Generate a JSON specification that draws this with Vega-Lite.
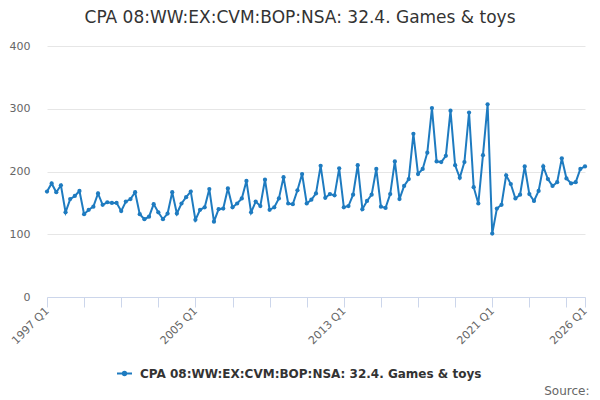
{
  "$schema": "https://vega.github.io/schema/vega-lite/v6.json",
  "autosize": {"type": "none"},
  "width": 538,
  "height": 251,
  "padding": {"left": 47, "top": 46, "right": 15, "bottom": 103},
  "background": "white",
  "title": {
    "text": "CPA 08:WW:EX:CVM:BOP:NSA: 32.4. Games & toys",
    "font": "DejaVu Sans",
    "fontSize": 17,
    "fontWeight": "normal",
    "color": "#333333",
    "anchor": "middle",
    "dx": -16,
    "offset": 13
  },
  "config": {
    "view": {"stroke": null},
    "font": "DejaVu Sans"
  },
  "data": {
    "values": [
      {"quarter": "1997 Q1", "value": 168}, {"quarter": "1997 Q2", "value": 181}, {"quarter": "1997 Q3", "value": 167}, {"quarter": "1997 Q4", "value": 178},
      {"quarter": "1998 Q1", "value": 135}, {"quarter": "1998 Q2", "value": 156}, {"quarter": "1998 Q3", "value": 161}, {"quarter": "1998 Q4", "value": 169},
      {"quarter": "1999 Q1", "value": 132}, {"quarter": "1999 Q2", "value": 139}, {"quarter": "1999 Q3", "value": 144}, {"quarter": "1999 Q4", "value": 165},
      {"quarter": "2000 Q1", "value": 147}, {"quarter": "2000 Q2", "value": 151}, {"quarter": "2000 Q3", "value": 150}, {"quarter": "2000 Q4", "value": 150},
      {"quarter": "2001 Q1", "value": 137}, {"quarter": "2001 Q2", "value": 152}, {"quarter": "2001 Q3", "value": 156}, {"quarter": "2001 Q4", "value": 167},
      {"quarter": "2002 Q1", "value": 132}, {"quarter": "2002 Q2", "value": 124}, {"quarter": "2002 Q3", "value": 128}, {"quarter": "2002 Q4", "value": 148},
      {"quarter": "2003 Q1", "value": 135}, {"quarter": "2003 Q2", "value": 124}, {"quarter": "2003 Q3", "value": 133}, {"quarter": "2003 Q4", "value": 167},
      {"quarter": "2004 Q1", "value": 133}, {"quarter": "2004 Q2", "value": 149}, {"quarter": "2004 Q3", "value": 159}, {"quarter": "2004 Q4", "value": 168},
      {"quarter": "2005 Q1", "value": 123}, {"quarter": "2005 Q2", "value": 139}, {"quarter": "2005 Q3", "value": 143}, {"quarter": "2005 Q4", "value": 172},
      {"quarter": "2006 Q1", "value": 120}, {"quarter": "2006 Q2", "value": 140}, {"quarter": "2006 Q3", "value": 141}, {"quarter": "2006 Q4", "value": 173},
      {"quarter": "2007 Q1", "value": 143}, {"quarter": "2007 Q2", "value": 149}, {"quarter": "2007 Q3", "value": 157}, {"quarter": "2007 Q4", "value": 185},
      {"quarter": "2008 Q1", "value": 135}, {"quarter": "2008 Q2", "value": 152}, {"quarter": "2008 Q3", "value": 145}, {"quarter": "2008 Q4", "value": 187},
      {"quarter": "2009 Q1", "value": 139}, {"quarter": "2009 Q2", "value": 143}, {"quarter": "2009 Q3", "value": 157}, {"quarter": "2009 Q4", "value": 191},
      {"quarter": "2010 Q1", "value": 149}, {"quarter": "2010 Q2", "value": 148}, {"quarter": "2010 Q3", "value": 170}, {"quarter": "2010 Q4", "value": 196},
      {"quarter": "2011 Q1", "value": 149}, {"quarter": "2011 Q2", "value": 155}, {"quarter": "2011 Q3", "value": 165}, {"quarter": "2011 Q4", "value": 209},
      {"quarter": "2012 Q1", "value": 158}, {"quarter": "2012 Q2", "value": 164}, {"quarter": "2012 Q3", "value": 162}, {"quarter": "2012 Q4", "value": 205},
      {"quarter": "2013 Q1", "value": 143}, {"quarter": "2013 Q2", "value": 145}, {"quarter": "2013 Q3", "value": 163}, {"quarter": "2013 Q4", "value": 210},
      {"quarter": "2014 Q1", "value": 140}, {"quarter": "2014 Q2", "value": 153}, {"quarter": "2014 Q3", "value": 163}, {"quarter": "2014 Q4", "value": 204},
      {"quarter": "2015 Q1", "value": 144}, {"quarter": "2015 Q2", "value": 142}, {"quarter": "2015 Q3", "value": 164}, {"quarter": "2015 Q4", "value": 216},
      {"quarter": "2016 Q1", "value": 156}, {"quarter": "2016 Q2", "value": 177}, {"quarter": "2016 Q3", "value": 188}, {"quarter": "2016 Q4", "value": 260},
      {"quarter": "2017 Q1", "value": 196}, {"quarter": "2017 Q2", "value": 204}, {"quarter": "2017 Q3", "value": 230}, {"quarter": "2017 Q4", "value": 301},
      {"quarter": "2018 Q1", "value": 216}, {"quarter": "2018 Q2", "value": 215}, {"quarter": "2018 Q3", "value": 225}, {"quarter": "2018 Q4", "value": 297},
      {"quarter": "2019 Q1", "value": 210}, {"quarter": "2019 Q2", "value": 190}, {"quarter": "2019 Q3", "value": 215}, {"quarter": "2019 Q4", "value": 294},
      {"quarter": "2020 Q1", "value": 175}, {"quarter": "2020 Q2", "value": 149}, {"quarter": "2020 Q3", "value": 226}, {"quarter": "2020 Q4", "value": 307},
      {"quarter": "2021 Q1", "value": 101}, {"quarter": "2021 Q2", "value": 141}, {"quarter": "2021 Q3", "value": 147}, {"quarter": "2021 Q4", "value": 194},
      {"quarter": "2022 Q1", "value": 180}, {"quarter": "2022 Q2", "value": 157}, {"quarter": "2022 Q3", "value": 163}, {"quarter": "2022 Q4", "value": 208},
      {"quarter": "2023 Q1", "value": 164}, {"quarter": "2023 Q2", "value": 153}, {"quarter": "2023 Q3", "value": 169}, {"quarter": "2023 Q4", "value": 208},
      {"quarter": "2024 Q1", "value": 188}, {"quarter": "2024 Q2", "value": 177}, {"quarter": "2024 Q3", "value": 183}, {"quarter": "2024 Q4", "value": 221},
      {"quarter": "2025 Q1", "value": 189}, {"quarter": "2025 Q2", "value": 181}, {"quarter": "2025 Q3", "value": 183}, {"quarter": "2025 Q4", "value": 204},
      {"quarter": "2026 Q1", "value": 208}
    ]
  },
  "mark": {
    "type": "line",
    "strokeWidth": 2,
    "point": {"filled": true, "size": 18}
  },
  "encoding": {
    "x": {
      "field": "quarter",
      "type": "ordinal",
      "sort": null,
      "scale": {"type": "point", "padding": 0},
      "axis": {
        "values": ["1997 Q1", "1999 Q1", "2001 Q1", "2003 Q1", "2005 Q1", "2007 Q1", "2009 Q1", "2011 Q1", "2013 Q1", "2015 Q1", "2017 Q1", "2019 Q1", "2021 Q1", "2023 Q1", "2025 Q1", "2026 Q1"],
        "labelExpr": "indexof(['1997 Q1','2005 Q1','2013 Q1','2021 Q1','2026 Q1'], datum.value) >= 0 ? datum.value : ''",
        "labelAngle": -45,
        "labelAlign": "right",
        "labelBaseline": "middle",
        "labelPadding": 2,
        "labelFontSize": 11,
        "labelColor": "#666666",
        "labelFont": "DejaVu Sans",
        "labelOverlap": false,
        "labelFlush": false,
        "domainColor": "#ccd6eb",
        "domainWidth": 1,
        "tickColor": "#ccd6eb",
        "tickSize": 10,
        "tickWidth": 1,
        "grid": false,
        "title": "Source:",
        "titleFont": "DejaVu Sans",
        "titleFontSize": 12,
        "titleFontWeight": "normal",
        "titleColor": "#666666",
        "titleAnchor": "start",
        "titleAlign": "right",
        "titleBaseline": "alphabetic",
        "titleX": 542,
        "titleY": 97
      }
    },
    "y": {
      "field": "value",
      "type": "quantitative",
      "scale": {"domain": [0, 400], "nice": false},
      "axis": {
        "values": [0, 100, 200, 300, 400],
        "title": null,
        "domain": false,
        "ticks": false,
        "labelPadding": 17,
        "labelFontSize": 11,
        "labelColor": "#666666",
        "labelFont": "DejaVu Sans",
        "gridColor": "#e6e6e6",
        "gridWidth": 1
      }
    },
    "color": {
      "datum": "CPA 08:WW:EX:CVM:BOP:NSA: 32.4. Games & toys",
      "type": "nominal",
      "scale": {"range": ["#1e7bc0"]},
      "legend": {
        "title": null,
        "orient": "none",
        "legendX": 69,
        "legendY": 319,
        "symbolType": "M-1,0L1,0M-0.22,0a0.22,0.22 0 1,0 0.44,0a0.22,0.22 0 1,0 -0.44,0",
        "symbolSize": 225,
        "symbolStrokeWidth": 2,
        "symbolFillColor": "#1e7bc0",
        "symbolStrokeColor": "#1e7bc0",
        "labelFont": "DejaVu Sans",
        "labelFontSize": 12,
        "labelFontWeight": "bold",
        "labelColor": "#333333",
        "labelLimit": 500,
        "labelOffset": 7
      }
    }
  }
}
